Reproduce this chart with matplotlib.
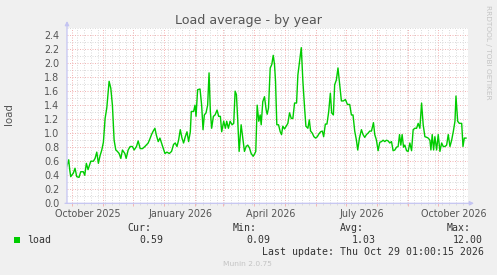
import numpy as np
import matplotlib
matplotlib.use("Agg")
from matplotlib import pyplot as plt

# days since 1 Oct 2025, load values
days = [-5.3, -3.3, -2.3, -1.3, 1.3, 3, 4.7, 7, 8.7, 11.3, 12.7, 14.3, 16, 18.7, 21.3, 23,
        24.7, 26.3, 28, 29.7, 31.3, 33, 34.7, 37, 38.7, 40.3, 42, 43.7, 45.3, 47, 48.7,
        50.3, 52.7, 54, 56, 58, 60.3, 62, 64.3, 66, 68, 70.3, 72.7, 74.7, 76, 78, 79.3,
        81, 82.7, 84, 86, 87.7, 89.3, 91, 92.7, 94.7, 97, 99.3, 101.3, 103, 104.7, 106.3,
        108, 109.7, 111.3, 113, 114.7, 116.3, 118, 119, 121.3, 122.7, 123.7, 125.3, 127.7,
        129.3, 130.7, 132, 133.7, 135.3, 136.7, 138, 139.3, 141, 142.7, 144.7, 146.3, 148,
        149.3, 151.3, 153, 154.3, 156, 157.7, 159.7, 161.3, 162.7, 164, 165.3, 166.7,
        168.7, 170.3, 172, 173.7, 175.3, 177, 178.7, 180.7, 182.3, 183.3, 184.7, 186.3,
        187.7, 188.7, 190.3, 192, 193.7, 194.7, 196, 197.7, 199.3, 200.7, 202, 203,
        204.3, 206, 207.7, 209, 210.3, 212, 213.7, 215.3, 217, 218.7, 220.3, 222, 224,
        225.3, 227, 228.7, 230.3, 232, 233.3, 235.3, 236.7, 238, 239.7, 241.3, 243, 244.7,
        246.3, 248, 249.7, 251, 252.7, 254.3, 256, 257.7, 259, 260.7, 262, 263.7, 265.3,
        267, 268.7, 270.7, 272.7, 274.7, 277, 278.7, 280.3, 282, 283.7, 285, 286.7, 288.7,
        290.3, 292, 293.7, 295.3, 297, 298.7, 300.7, 302, 303.7, 305.3, 307, 308.7, 310.3,
        312, 313.7, 315.3, 317, 318.7, 320.3, 322, 323.7, 325.3, 326.7, 328, 329.3, 330.7,
        332, 333.7, 335.3, 337, 338.7, 340.3, 342, 343.7, 345.3, 347, 348.7, 350.3, 352,
        354, 355.3, 357, 358, 359.3, 360.7, 362, 363.7, 365.3, 367, 368.7, 370.3, 372,
        373.7, 375.3, 377, 378.7, 380.3, 382, 383, 384.7, 386.3, 388.7, 390, 391.3, 393]
load = [0.52, 0.62, 0.48, 0.38, 0.43, 0.50, 0.38, 0.37, 0.45, 0.45, 0.40, 0.57, 0.48, 0.60,
        0.60, 0.64, 0.73, 0.57, 0.68, 0.76, 0.87, 1.21, 1.36, 1.74, 1.64, 1.40, 0.90, 0.76,
        0.74, 0.71, 0.64, 0.76, 0.71, 0.64, 0.76, 0.81, 0.81, 0.76, 0.81, 0.89, 0.78, 0.78,
        0.81, 0.84, 0.86, 0.93, 0.98, 1.03, 1.07, 0.98, 0.88, 0.93, 0.86, 0.79, 0.71, 0.73,
        0.71, 0.74, 0.84, 0.86, 0.81, 0.90, 1.05, 0.93, 0.86, 0.95, 1.02, 0.88, 1.02, 1.31,
        1.31, 1.40, 1.24, 1.62, 1.63, 1.40, 1.05, 1.26, 1.29, 1.40, 1.86, 1.31, 1.07, 1.24,
        1.26, 1.33, 1.24, 1.24, 1.02, 1.17, 1.07, 1.17, 1.07, 1.17, 1.12, 1.14, 1.60, 1.55,
        1.19, 0.74, 1.12, 0.93, 0.74, 0.81, 0.83, 0.79, 0.71, 0.67, 0.71, 0.74, 1.40, 1.17,
        1.26, 1.12, 1.45, 1.52, 1.33, 1.27, 1.36, 1.93, 1.98, 2.11, 1.98, 1.74, 1.12, 1.12,
        1.02, 0.98, 1.10, 1.06, 1.10, 1.14, 1.29, 1.21, 1.21, 1.43, 1.43, 1.83, 2.02, 2.22,
        1.74, 1.36, 1.10, 1.07, 1.19, 1.03, 1.00, 0.95, 0.93, 0.95, 0.99, 1.02, 1.03, 0.95,
        1.13, 1.13, 1.30, 1.57, 1.29, 1.26, 1.69, 1.76, 1.93, 1.69, 1.46, 1.46, 1.48, 1.41,
        1.41, 1.26, 1.26, 1.03, 0.90, 0.76, 0.93, 1.05, 0.98, 0.94, 0.98, 1.00, 1.03, 1.03,
        1.15, 0.98, 0.90, 0.75, 0.87, 0.88, 0.90, 0.88, 0.90, 0.89, 0.86, 0.88, 0.75, 0.76,
        0.80, 0.81, 0.98, 0.83, 0.98, 0.80, 0.83, 0.75, 0.74, 0.86, 0.75, 1.05, 1.07, 1.07,
        1.14, 1.07, 1.43, 1.12, 0.95, 0.94, 0.93, 0.90, 0.76, 0.98, 0.76, 0.95, 0.76, 0.98,
        0.74, 0.86, 0.81, 0.81, 0.83, 0.98, 0.81, 0.90, 1.02, 1.17, 1.53, 1.17, 1.14, 1.14,
        0.81, 0.93, 0.93]

# month starts (days since 1 Oct 2025) and the quarterly labels
month_starts = [0, 31, 61, 92, 123, 151, 182, 212, 243, 273, 304, 335, 365]
label_days = [0, 92, 182, 273, 365]
label_names = ["October 2025", "January 2026", "April 2026", "July 2026", "October 2026"]

stat_names = ["Cur:", "Min:", "Avg:", "Max:"]
stat_values = ["0.59", "0.09", "1.03", "12.00"]

W, H = 497, 275
BG = "#f0f0f0"
AXC = "#c4c4f2"
MAJ = "#f2b6b6"
MIN = "#dcdcdc"
TXT = "#555555"

fig = plt.figure(figsize=(W / 100, H / 100), dpi=100, facecolor=BG)
px_l, px_r, px_t, px_b = 67, 468, 28, 203.3
ax = fig.add_axes([px_l / W, 1 - px_b / H, (px_r - px_l) / W, (px_b - px_t) / H])
ax.set_facecolor("white")
ax.set_xlim(-5, 395)
ax.set_ylim(0, 2.5)
for s in ax.spines.values():
    s.set_visible(False)

dot = (0, (1, 1.5))
# grid
for v in np.arange(0.1, 2.51, 0.1):
    major = abs(v / 0.2 - round(v / 0.2)) < 1e-6
    ax.axhline(v, color=MAJ if major else MIN, lw=0.72, ls=dot, zorder=1)
weeks = np.arange(5, 395, 7)
ax.vlines(weeks, 0, 2.5, colors=MIN, lw=0.72, linestyles=dot, zorder=1)
ax.vlines(month_starts, 0, 2.5, colors=MAJ, lw=0.72, linestyles=dot, zorder=1)
# tick marks under the axis
ax.vlines(weeks, -0.03, 0, colors=MIN, lw=0.72, clip_on=False)
ax.vlines(month_starts, -0.04, 0, colors=MAJ, lw=0.72, clip_on=False)

ax.plot(days, load, color="#00cc00", lw=1.0, zorder=3)

ax.set_yticks(np.arange(0, 2.41, 0.2))
ax.set_yticklabels(["%.1f" % v for v in np.arange(0, 2.41, 0.2)])
ax.tick_params(axis="y", length=0, pad=5.5, labelsize=6.9, labelcolor=TXT)
ax.set_xticks([d + 16 for d in label_days])
ax.set_xticklabels(label_names)
ax.tick_params(axis="x", length=0, pad=4.3, labelsize=6.9, labelcolor=TXT)

# axis arrows
ax.annotate("", xy=(0, 1.04), xytext=(0, 0), xycoords="axes fraction",
            arrowprops=dict(arrowstyle="-|>", color=AXC, lw=0.9, mutation_scale=6, shrinkA=0, shrinkB=0))
ax.annotate("", xy=(1.015, 0), xytext=(-0.005, 0), xycoords="axes fraction",
            arrowprops=dict(arrowstyle="-|>", color=AXC, lw=0.9, mutation_scale=6, shrinkA=0, shrinkB=0))

fig.text(0.5, 1 - 24 / H, "Load average - by year", ha="center", va="baseline",
         fontsize=9.1, color=TXT)
fig.text(9 / W, 1 - 114 / H, "load", rotation=90, ha="center", va="center",
         fontsize=7.4, color=TXT)
fig.text(488 / W, 1 - 5 / H, "RRDTOOL / TOBI OETIKER", rotation=270, ha="center", va="top",
         fontsize=5.3, color="#c4c4c4")

# legend
mono = "DejaVu Sans Mono"
fig.patches.append(plt.Rectangle((14 / W, 1 - 243 / H), 6 / W, 6 / H, transform=fig.transFigure,
                                 facecolor="#00cc00", edgecolor="none"))
fig.text(27 / W, 1 - 240 / H, "load", family=mono, fontsize=7.1, color="#333333", va="center")
head_x = [127, 233, 340, 447]
val_x = [139, 246, 352, 453]
for hx, vx, name, val in zip(head_x, val_x, stat_names, stat_values):
    fig.text(hx / W, 1 - 228 / H, name, family=mono, fontsize=7.1, color="#333333", va="center")
    fig.text(vx / W, 1 - 240 / H, val, family=mono, fontsize=7.1, color="#333333", va="center")
fig.text(262 / W, 1 - 252 / H, "Last update: Thu Oct 29 01:00:15 2026", family=mono,
         fontsize=7.1, color="#333333", va="center")
fig.text(223 / W, 1 - 264 / H, "Munin 2.0.75", fontsize=5.4, color="#c4c4c4", va="center")

fig.savefig("out.png", dpi=100, facecolor=BG)
